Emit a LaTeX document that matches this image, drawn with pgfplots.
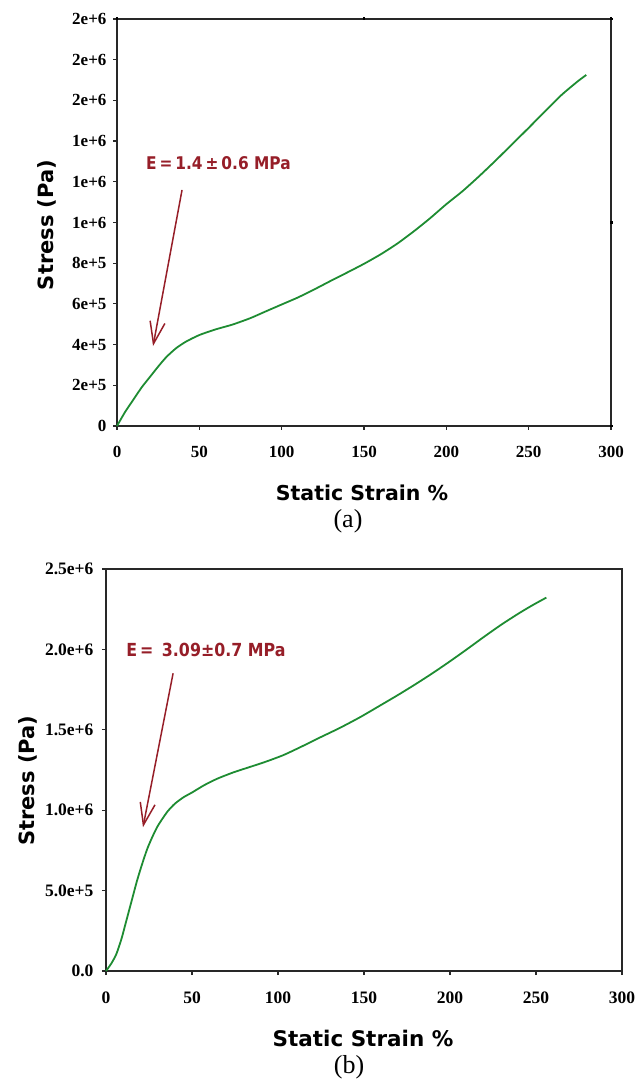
\documentclass[border=0pt]{standalone}
\usepackage{pgfplots}
\usepackage{pgfplotstable}
\pgfplotsset{compat=1.18}
\usetikzlibrary{arrows.meta}
\usepackage{fontspec}
\setmainfont{Liberation Serif}
\newfontfamily\labfont{DejaVu Sans}
\newfontfamily\annfont{DejaVu Sans}[FakeStretch=0.88]

\definecolor{curvegreen}{RGB}{30,140,50}
\definecolor{annred}{RGB}{150,30,40}
\definecolor{axisgray}{RGB}{40,40,40}

% stress-strain curve, sample (a)
\pgfplotstableread{
strain stress
0    0
5    70000
10   130000
15   190000
20   241000
25   292000
30   339000
36   383000
42   415000
50   447000
60   475000
70   498000
81   530000
90   562000
100  597000
110  632000
120  672000
130  714000
140  755000
150  797000
160  843000
170  895000
180  955000
190  1020000
200  1090000
210  1155000
220  1228000
230  1305000
240  1385000
250  1465000
260  1547000
270  1627000
280  1695000
285  1725000
}\tableA

% stress-strain curve, sample (b)
\pgfplotstableread{
strain stress
0    0
3    45000
6    105000
9    200000
12   320000
15   440000
18   560000
21   665000
24   760000
27   835000
30   900000
33   950000
36   995000
40   1040000
45   1080000
50   1110000
57   1155000
64.5 1195000
74   1235000
84   1270000
93   1302000
103  1342000
113  1392000
124  1450000
136  1512000
148  1580000
160  1655000
170  1718000
180  1784000
190  1853000
200  1926000
210  2002000
220  2080000
230  2155000
240  2224000
248  2275000
256  2322000
}\tableB

\pgfplotsset{
  stressaxis/.style={
    scale only axis,
    xmin=0, xmax=300, ymin=0,
    axis line style={line width=1.6pt, draw=axisgray},
    tick align=outside,
    major tick length=4pt,
    tick style={line width=1.2pt, draw=axisgray},
    xtick={0,50,100,150,200,250,300},
    xticklabels={0,50,100,150,200,250,300},
    xtick pos=left, ytick pos=left,
    scaled ticks=false,
    clip=false,
    /pgf/number format/assume math mode=true,
    xlabel={Static Strain \%},
    ylabel={Stress (Pa)},
  },
}

\begin{document}
\begin{tikzpicture}
\path[use as bounding box] (0pt,0pt) rectangle (637pt,1087pt);

% ---------- panel (a) ----------
\begin{axis}[stressaxis,
  at={(117pt,661pt)}, anchor=south west,
  width=494pt, height=407pt,
  ymax=2000000,
  ytick={0,200000,400000,600000,800000,1000000,1200000,1400000,1600000,1800000,2000000},
  yticklabels={0,2e+5,4e+5,6e+5,8e+5,1e+6,1e+6,1e+6,2e+6,2e+6,2e+6},
  ticklabel style={font=\fontsize{17}{19}\selectfont\bfseries},
  xticklabel style={yshift=-13pt},
  yticklabel style={xshift=-3pt},
  xlabel style={at={(axis description cs:0.496,-0.165)}, anchor=center,
    font=\labfont\bfseries\fontsize{20.5}{22}\selectfont},
  ylabel style={at={(axis description cs:-0.142,0.494)}, anchor=center,
    font=\labfont\bfseries\fontsize{21}{23}\selectfont},
]
\addplot[curvegreen, line width=1.8pt, smooth, tension=0.4] table[x=strain, y=stress] {\tableA};
\draw[annred, line width=1.5pt, -{Straight Barb[length=22pt, width=15pt, line width=1.5pt]}]
  (axis cs:39.5,1160000) -- (axis cs:21.9,393000);
\node[annred, font=\annfont\bfseries\fontsize{17.5}{19}\selectfont]
  at (axis cs:61.6,1292000) {E\,=\,1.4\,±\,0.6 MPa};
\end{axis}

% small marks along the top and right frame of panel (a)
\begin{axis}[
  scale only axis,
  at={(117pt,661pt)}, anchor=south west,
  width=494pt, height=407pt,
  xmin=0, xmax=300, ymin=0, ymax=2000000,
  axis line style={draw=none},
  xtick={0,150,300}, ytick={0,1000000,2000000},
  xtick pos=right, ytick pos=right,
  xticklabels={}, yticklabels={},
  tick align=center, major tick length=3pt,
  tick style={line width=2.6pt, draw=black},
  scaled ticks=false,
]
\end{axis}

% ---------- panel (b) ----------
\begin{axis}[stressaxis,
  at={(106pt,116pt)}, anchor=south west,
  width=516pt, height=402pt,
  ymax=2500000,
  ytick={0,500000,1000000,1500000,2000000,2500000},
  yticklabels={0.0,5.0e+5,1.0e+6,1.5e+6,2.0e+6,2.5e+6},
  ticklabel style={font=\fontsize{17.5}{19}\selectfont\bfseries},
  xticklabel style={yshift=-13pt},
  yticklabel style={xshift=-5pt},
  xlabel style={at={(axis description cs:0.498,-0.167)}, anchor=center,
    font=\labfont\bfseries\fontsize{21.5}{23}\selectfont},
  ylabel style={at={(axis description cs:-0.151,0.473)}, anchor=center,
    font=\labfont\bfseries\fontsize{21}{23}\selectfont},
]
\addplot[curvegreen, line width=1.8pt, smooth, tension=0.4] table[x=strain, y=stress] {\tableB};
\draw[annred, line width=1.5pt, -{Straight Barb[length=22pt, width=15pt, line width=1.5pt]}]
  (axis cs:39,1851000) -- (axis cs:21.5,894000);
\node[annred, font=\annfont\bfseries\fontsize{18}{20}\selectfont]
  at (axis cs:58.1,1994000) {E\,=\, 3.09±0.7 MPa};
\end{axis}

% panel captions
\node[font=\fontsize{26}{28}\selectfont] at (348pt,566pt) {(a)};
\node[font=\fontsize{26}{28}\selectfont] at (349pt,20pt) {(b)};
\end{tikzpicture}
\end{document}
